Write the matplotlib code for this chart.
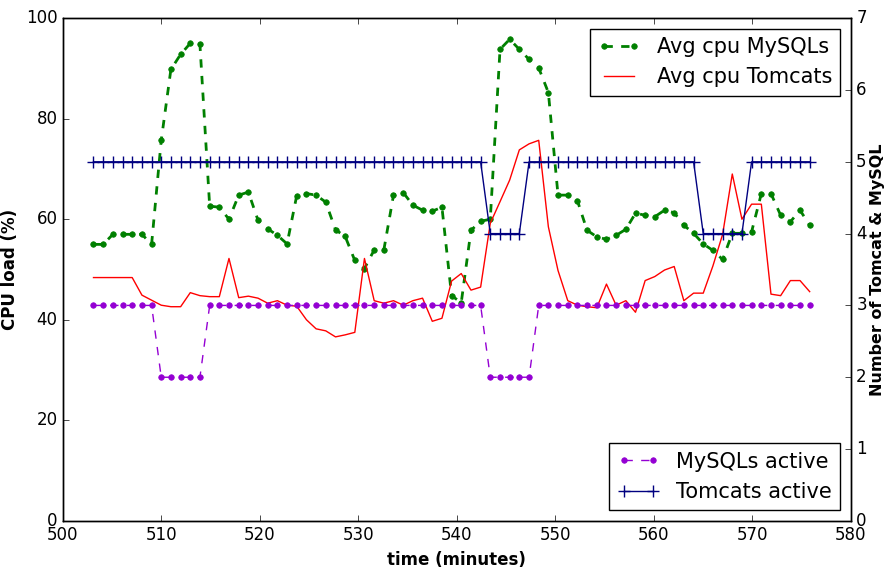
import numpy as np
import matplotlib
matplotlib.use('Agg')
import matplotlib.pyplot as plt

plt.style.use('classic')

# sample times (minutes)
t = [503.10, 504.08, 505.07, 506.05, 507.03, 508.02, 509.00, 509.98, 510.96, 511.95,
     512.93, 513.91, 514.90, 515.88, 516.86, 517.85, 518.83, 519.81, 520.79, 521.78,
     522.76, 523.74, 524.73, 525.71, 526.69, 527.68, 528.66, 529.64, 530.62, 531.61,
     532.59, 533.57, 534.56, 535.54, 536.52, 537.51, 538.49, 539.47, 540.45, 541.44,
     542.42, 543.40, 544.39, 545.37, 546.35, 547.34, 548.32, 549.30, 550.28, 551.27,
     552.25, 553.23, 554.22, 555.20, 556.18, 557.17, 558.15, 559.13, 560.11, 561.10,
     562.08, 563.06, 564.05, 565.03, 566.01, 567.00, 567.98, 568.96, 569.94, 570.93,
     571.91, 572.89, 573.88, 574.86, 575.84]

cpu_mysql = [55.0, 55.0, 57.0, 57.0, 57.0, 57.0, 55.0, 75.7, 89.8, 92.8,
             95.0, 94.8, 62.6, 62.4, 60.0, 64.8, 65.4, 59.8, 58.1, 56.8,
             55.1, 64.7, 65.1, 64.8, 63.4, 57.9, 56.6, 51.8, 50.2, 53.9,
             53.9, 64.8, 65.3, 62.8, 61.8, 61.6, 62.4, 44.8, 43.4, 57.8,
             59.6, 60.0, 93.8, 95.8, 93.8, 91.8, 90.1, 85.2, 64.8, 64.8,
             63.7, 57.8, 56.5, 56.0, 56.8, 58.0, 61.2, 60.8, 60.5, 61.8,
             61.3, 58.8, 57.2, 55.1, 53.8, 52.0, 57.2, 57.2, 57.5, 65.1,
             65.1, 60.8, 59.5, 61.8, 58.8]

cpu_tomcat = [48.4, 48.4, 48.4, 48.4, 48.4, 44.9, 43.9, 42.9, 42.6, 42.6,
              45.4, 44.8, 44.6, 44.6, 52.2, 44.4, 44.7, 44.3, 43.3, 43.8,
              42.9, 42.7, 40.0, 38.2, 37.8, 36.6, 37.0, 37.5, 52.2, 43.8,
              43.3, 43.8, 42.9, 43.8, 44.3, 39.7, 40.3, 47.7, 49.2, 45.9,
              46.5, 59.2, 63.5, 67.8, 73.8, 75.0, 75.7, 58.5, 49.8, 43.8,
              42.9, 42.6, 42.4, 47.1, 42.9, 43.8, 41.5, 47.8, 48.6, 49.9,
              50.6, 43.8, 45.3, 45.3, 50.7, 57.0, 69.0, 60.0, 63.0, 63.0,
              45.1, 44.8, 47.8, 47.8, 45.6]

n_mysql = [3]*7 + [2]*5 + [3]*29 + [2]*5 + [3]*29
n_tomcat = [5]*41 + [4]*4 + [5]*18 + [4]*5 + [5]*7

fig = plt.figure(figsize=(8.87, 5.68), dpi=100, facecolor='white')
ax1 = fig.add_axes([0.071, 0.083, 0.888, 0.885])
ax2 = ax1.twinx()

ax1.plot(t, cpu_mysql, '--', color='g', marker='o', markersize=4,
         markeredgecolor='g', linewidth=2, label='Avg cpu MySQLs')
ax1.plot(t, cpu_tomcat, '-', color='r', linewidth=1, label='Avg cpu Tomcats')

ax2.plot(t, n_mysql, '--', color='darkviolet', marker='o', markersize=4,
         markeredgecolor='darkviolet', linewidth=1, label='MySQLs active')
ax2.plot(t, n_tomcat, '-', color='navy', marker='+', markersize=9,
         markeredgewidth=1, linewidth=1, label='Tomcats active')

ax1.set_xlim(500, 580)
ax1.set_ylim(0, 100)
ax2.set_ylim(0, 7)
ax1.set_xlabel('time (minutes)', fontsize=12, fontweight='bold')
ax1.set_ylabel('CPU load (%)', fontsize=12, fontweight='bold')
ax2.set_ylabel('Number of Tomcat & MySQL', fontsize=11.5, fontweight='bold', labelpad=2)

ax1.legend(loc='upper right', fontsize=15)
ax2.legend(loc='lower right', fontsize=15)

fig.savefig('out.png', dpi=100, facecolor='white')
